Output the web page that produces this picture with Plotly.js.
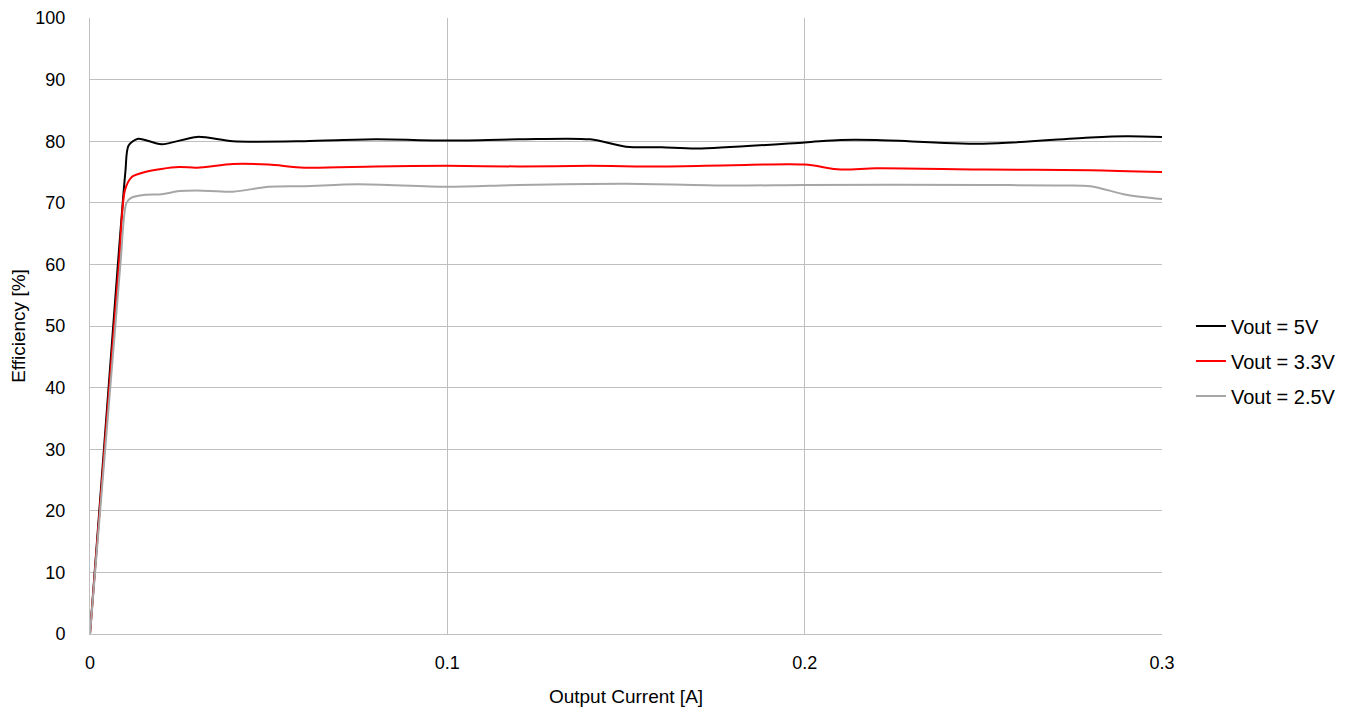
<!DOCTYPE html>
<html>
<head>
<meta charset="utf-8">
<script src="https://cdn.plot.ly/plotly-3.0.1.min.js"></script>
<style>
  html, body { margin: 0; padding: 0; background: #fff; }
  #chart { width: 1349px; height: 712px; }
</style>
</head>
<body>
<div id="chart"></div>
<script>
// Output current [A] and measured efficiency [%] for each output voltage
const current5V  = [0, 0.0078, 0.0099, 0.0108, 0.0135, 0.02, 0.03, 0.04, 0.06, 0.08, 0.10, 0.12, 0.14, 0.15, 0.16, 0.17, 0.20, 0.21, 0.22, 0.25, 0.28, 0.29, 0.30];
const eff5V      = [0, 60.0, 75.0, 79.3, 80.4, 79.5, 80.7, 80.0, 80.0, 80.3, 80.1, 80.3, 80.3, 79.1, 79.0, 78.8, 79.8, 80.2, 80.2, 79.6, 80.6, 80.8, 80.7];

const current3V3 = [0, 0.0081, 0.0098, 0.0117, 0.0154, 0.02, 0.025, 0.03, 0.04, 0.05, 0.06, 0.08, 0.10, 0.12, 0.14, 0.16, 0.18, 0.20, 0.21, 0.22, 0.25, 0.28, 0.30];
const eff3V3     = [0, 60.0, 72.1, 74.2, 75.0, 75.5, 75.8, 75.7, 76.3, 76.2, 75.7, 75.9, 76.0, 75.9, 76.0, 75.9, 76.1, 76.2, 75.4, 75.6, 75.4, 75.3, 75.0];

const current2V5 = [0, 0.0085, 0.0102, 0.0115, 0.0154, 0.02, 0.025, 0.03, 0.04, 0.05, 0.06, 0.075, 0.10, 0.12, 0.15, 0.18, 0.20, 0.25, 0.27, 0.28, 0.29, 0.30];
const eff2V5     = [0, 60.0, 70.0, 70.8, 71.3, 71.4, 71.9, 72.0, 71.8, 72.6, 72.7, 73.0, 72.6, 72.9, 73.1, 72.8, 72.9, 72.9, 72.8, 72.7, 71.3, 70.6];

const seriesNames = ['Vout = 5V', 'Vout = 3.3V', 'Vout = 2.5V'];
const xTickVals = [0, 0.1, 0.2, 0.3];
const xTickText = ['0', '0.1', '0.2', '0.3'];
const yTickVals = [0, 10, 20, 30, 40, 50, 60, 70, 80, 90, 100];

const narrow = '"Liberation Sans Narrow", "Arial Narrow", "Liberation Sans", Arial, sans-serif';
const regular = '"Liberation Sans", Arial, sans-serif';

function curve(x, y, name, color) {
  return {
    x: x, y: y, name: name, legendgroup: name, type: 'scatter', mode: 'lines',
    line: { color: color, width: 2, shape: 'spline', smoothing: 0.8 },
    hoverinfo: 'x+y+name'
  };
}

const data = [
  curve(current5V, eff5V, seriesNames[0], '#000000'),
  curve(current3V3, eff3V3, seriesNames[1], '#ff0000'),
  curve(current2V5, eff2V5, seriesNames[2], '#a6a6a6')
];

const layout = {
  width: 1349, height: 712,
  paper_bgcolor: '#ffffff', plot_bgcolor: '#ffffff',
  margin: { l: 90, r: 187, t: 18, b: 78, autoexpand: false },
  showlegend: true,
  legend: {
    x: 1.027, xanchor: 'left', y: 0.443, yanchor: 'middle',
    font: { family: narrow, size: 20, color: '#000' },
    bgcolor: 'rgba(0,0,0,0)', itemwidth: 30, tracegroupgap: 6,
    traceorder: 'grouped'
  },
  xaxis: {
    range: [0, 0.3], tickvals: xTickVals, ticktext: xTickText,
    showgrid: true, gridcolor: '#bfbfbf', gridwidth: 1,
    zeroline: false, showline: true, linecolor: '#bfbfbf', linewidth: 1, mirror: false,
    ticks: '', ticklabelstandoff: 12,
    tickfont: { family: regular, size: 18, color: '#000' },
    title: { text: 'Output Current [A]', font: { family: narrow, size: 19, color: '#000' }, standoff: 18 }
  },
  yaxis: {
    range: [0, 100], tickvals: yTickVals,
    showgrid: true, gridcolor: '#bfbfbf', gridwidth: 1,
    zeroline: false, showline: true, linecolor: '#bfbfbf', linewidth: 1,
    ticks: '', ticklabelstandoff: 20,
    tickfont: { family: regular, size: 18, color: '#000' },
    title: { text: 'Efficiency [%]', font: { family: narrow, size: 19, color: '#000' }, standoff: 4 }
  }
};

Plotly.newPlot('chart', data, layout, { displayModeBar: false, responsive: false });
</script>
</body>
</html>
